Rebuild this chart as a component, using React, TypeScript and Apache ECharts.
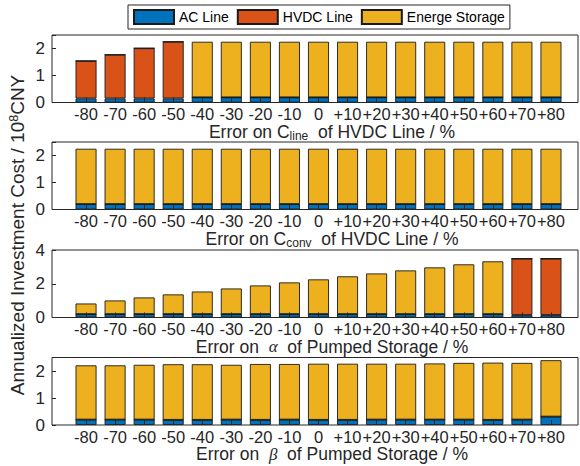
import React, { useEffect, useRef } from 'react';
import * as echarts from 'echarts';

const categories = ['-80', '-70', '-60', '-50', '-40', '-30', '-20', '-10', '0', '+10', '+20', '+30', '+40', '+50', '+60', '+70', '+80'];
const seriesNames = ['AC Line', 'HVDC Line', 'Energe Storage'];

// Panel 1: error on C_line of HVDC line
const ac1 = [0.15, 0.15, 0.15, 0.15, 0.19, 0.19, 0.19, 0.19, 0.19, 0.19, 0.19, 0.19, 0.19, 0.19, 0.19, 0.19, 0.19];
const hvdc1 = [1.39, 1.62, 1.86, 2.1, 0, 0, 0, 0, 0, 0, 0, 0, 0, 0, 0, 0, 0];
const storage1 = [0, 0, 0, 0, 2.06, 2.06, 2.06, 2.06, 2.06, 2.06, 2.06, 2.06, 2.06, 2.06, 2.06, 2.06, 2.06];

// Panel 2: error on C_conv of HVDC line
const ac2 = [0.2, 0.2, 0.2, 0.2, 0.2, 0.2, 0.2, 0.2, 0.2, 0.2, 0.2, 0.2, 0.2, 0.2, 0.2, 0.2, 0.2];
const hvdc2 = [0, 0, 0, 0, 0, 0, 0, 0, 0, 0, 0, 0, 0, 0, 0, 0, 0];
const storage2 = [2.05, 2.05, 2.05, 2.05, 2.05, 2.05, 2.05, 2.05, 2.05, 2.05, 2.05, 2.05, 2.05, 2.05, 2.05, 2.05, 2.05];

// Panel 3: error on alpha of pumped storage
const ac3 = [0.2, 0.2, 0.2, 0.2, 0.2, 0.2, 0.2, 0.2, 0.2, 0.2, 0.2, 0.2, 0.2, 0.2, 0.2, 0.15, 0.15];
const hvdc3 = [0, 0, 0, 0, 0, 0, 0, 0, 0, 0, 0, 0, 0, 0, 0, 3.34, 3.34];
const storage3 = [0.63, 0.81, 0.99, 1.17, 1.34, 1.52, 1.7, 1.88, 2.06, 2.24, 2.41, 2.59, 2.77, 2.95, 3.13, 0, 0];

// Panel 4: error on beta of pumped storage
const ac4 = [0.2, 0.2, 0.2, 0.19, 0.19, 0.2, 0.19, 0.2, 0.19, 0.19, 0.2, 0.2, 0.2, 0.2, 0.19, 0.2, 0.31];
const hvdc4 = [0, 0, 0, 0, 0, 0, 0, 0, 0, 0, 0, 0, 0, 0, 0, 0, 0];
const storage4 = [2.01, 2.01, 2.03, 2.06, 2.06, 2.03, 2.07, 2.06, 2.08, 2.08, 2.07, 2.07, 2.08, 2.1, 2.12, 2.1, 2.09];

const yMax = [2.5, 2.5, 4, 2.5];
const yInterval = [1, 1, 2, 1];

const FONT = 'Liberation Sans, Arial, Helvetica, sans-serif';
const COLORS = ['#0072BD', '#D95319', '#EDB120'];
const AXIS_COLOR = '#262626';

export default function App() {
  const ref = useRef<HTMLDivElement>(null);

  useEffect(() => {
    document.body.style.margin = '0';
    const chart = echarts.init(ref.current!, null, { renderer: 'svg' });

    const panels = [
      [ac1, hvdc1, storage1],
      [ac2, hvdc2, storage2],
      [ac3, hvdc3, storage3],
      [ac4, hvdc4, storage4],
    ];
    const tops = [35, 142, 250, 357.5];
    const h = 67.5;
    const boxLeft = 52;
    const boxRight = 578;
    const gridLeft = 71.5;
    const gridRight = 14.5;

    const titles = [
      'Error on C{sub|line}  of HVDC Line / %',
      'Error on C{sub|conv}  of HVDC Line / %',
      'Error on  {gr|α}  of Pumped Storage / %',
      'Error on  {gr|β}  of Pumped Storage / %',
    ];

    const grid = tops.map((t) => ({ left: gridLeft, right: gridRight, top: t, height: h }));
    const xAxis = tops.map((_, i) => ({
      gridIndex: i,
      type: 'category',
      data: categories,
      z: 5,
      axisLine: { show: false },
      axisTick: { show: true, inside: true, alignWithLabel: true, length: 5, lineStyle: { color: AXIS_COLOR } },
      axisLabel: { interval: 0, fontSize: 16.5, margin: 3, color: AXIS_COLOR, fontFamily: FONT, lineHeight: 17 },
      splitLine: { show: false },
    }));
    const yAxis = tops.map((_, i) => ({
      gridIndex: i,
      type: 'value',
      min: 0,
      max: yMax[i],
      interval: yInterval[i],
      offset: gridLeft - boxLeft,
      axisLine: { show: false },
      axisTick: { show: true, inside: true, length: 4, lineStyle: { color: AXIS_COLOR } },
      splitLine: { show: false },
      axisLabel: {
        fontSize: 17,
        margin: 7,
        color: AXIS_COLOR,
        fontFamily: FONT,
        formatter: (v: number) => (Math.abs(v % yInterval[i]) < 1e-9 ? String(v) : ''),
      },
    }));

    const series: any[] = [];
    panels.forEach((p, i) => {
      p.forEach((arr, k) => {
        series.push({
          type: 'bar',
          name: seriesNames[k],
          xAxisIndex: i,
          yAxisIndex: i,
          stack: 'p' + i,
          barWidth: 21,
          data: arr,
          itemStyle: { color: COLORS[k], borderColor: '#1a1a1a', borderWidth: 0.9 },
        });
      });
    });

    const graphic: any[] = [];
    tops.forEach((t, i) => {
      graphic.push({
        type: 'rect',
        z: 100,
        silent: true,
        shape: { x: boxLeft, y: t, width: boxRight - boxLeft, height: h },
        style: { fill: 'none', stroke: AXIS_COLOR, lineWidth: 1 },
      });
      graphic.push({
        type: 'text',
        z: 100,
        x: 332,
        y: t + h + 29,
        style: {
          text: titles[i],
          fill: AXIS_COLOR,
          fontSize: 17.5,
          fontFamily: FONT,
          align: 'center',
          verticalAlign: 'middle',
          rich: {
            sub: { fontSize: 12, fontFamily: FONT, fill: AXIS_COLOR, verticalAlign: 'bottom', padding: [0, 0, -1, 0] },
            gr: { fontSize: 17, fontFamily: 'Liberation Serif, DejaVu Serif, serif', fontStyle: 'italic', fill: AXIS_COLOR },
          },
        },
      });
    });
    graphic.push({
      type: 'text',
      z: 100,
      x: 17,
      y: 235,
      rotation: Math.PI / 2,
      style: {
        text: 'Annualized Investment Cost / 10{sup|8}CNY',
        fill: AXIS_COLOR,
        fontSize: 19,
        fontFamily: FONT,
        align: 'center',
        verticalAlign: 'middle',
        rich: {
          sup: { fontSize: 12.5, fontFamily: FONT, fill: AXIS_COLOR, verticalAlign: 'top', padding: [0, 0, 6, 0] },
        },
      },
    });

    chart.setOption({
      animation: false,
      backgroundColor: '#ffffff',
      legend: {
        data: seriesNames,
        left: 128,
        top: 5,
        itemWidth: 40,
        itemHeight: 14,
        itemGap: 8,
        padding: [4, 5, 4, 5],
        borderColor: AXIS_COLOR,
        borderWidth: 1,
        icon: 'rect',
        textStyle: { fontSize: 14, color: '#000', fontFamily: FONT },
      },
      grid,
      xAxis,
      yAxis,
      series,
      graphic,
    });

    return () => chart.dispose();
  }, []);

  return <div ref={ref} style={{ width: 580, height: 466 }} />;
}
